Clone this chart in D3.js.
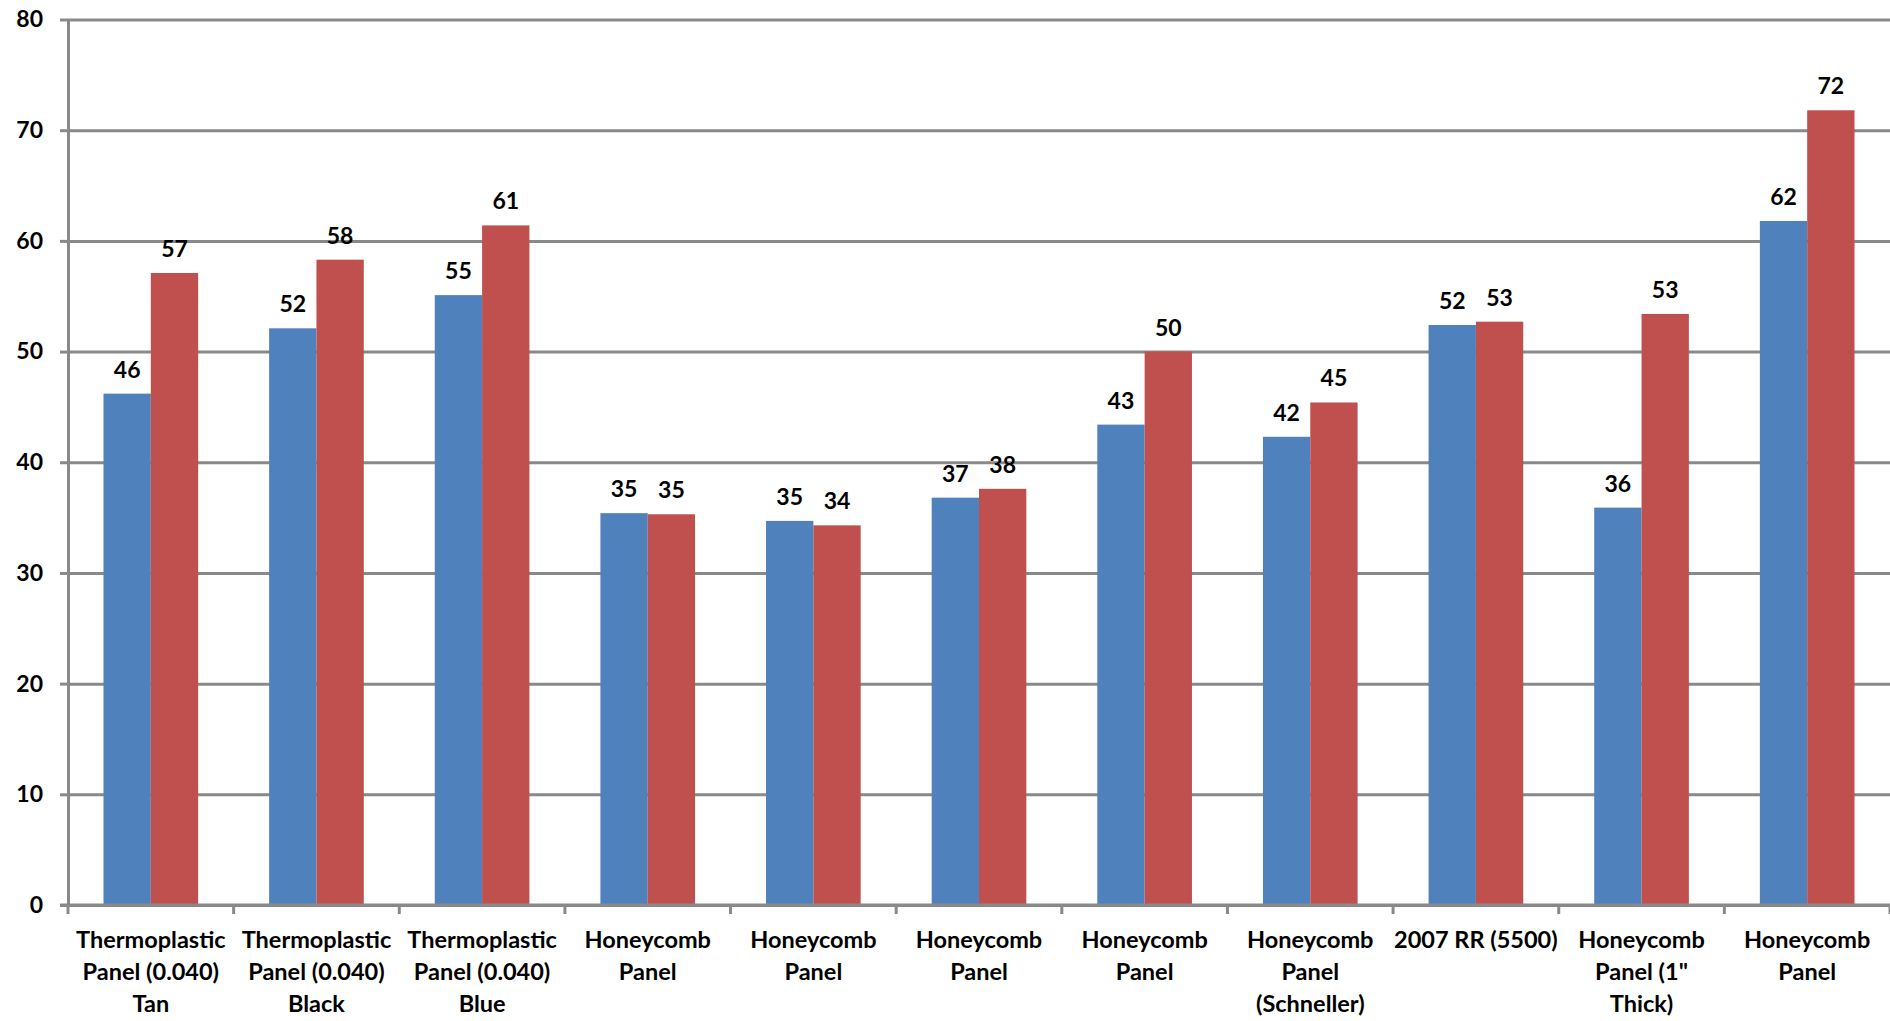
<!DOCTYPE html>
<html>
<head>
<meta charset="utf-8">
<script src="https://cdn.jsdelivr.net/npm/d3@7/dist/d3.min.js"></script>
<style>
  html, body { margin: 0; padding: 0; background: #ffffff; }
  svg { display: block; }
  text { font-family: Lato, "Open Sans", sans-serif; font-weight: 700; fill: #000; }
</style>
</head>
<body>
<svg id="chart" width="1890" height="1021"></svg>
<script>
// Category names, one string per group; line breaks mark the label wrapping
const categories = [
  "Thermoplastic\nPanel (0.040)\nTan",
  "Thermoplastic\nPanel (0.040)\nBlack",
  "Thermoplastic\nPanel (0.040)\nBlue",
  "Honeycomb\nPanel",
  "Honeycomb\nPanel",
  "Honeycomb\nPanel",
  "Honeycomb\nPanel",
  "Honeycomb\nPanel\n(Schneller)",
  "2007 RR (5500)",
  "Honeycomb\nPanel (1\"\nThick)",
  "Honeycomb\nPanel"
];

// First series (blue) and second series (red)
const seriesA = [46.2, 52.1, 55.1, 35.4, 34.7, 36.8, 43.4, 42.3, 52.4, 35.9, 61.8];
const seriesB = [57.1, 58.3, 61.4, 35.3, 34.3, 37.6, 50.0, 45.4, 52.7, 53.4, 71.8];

const yTicks = [0, 10, 20, 30, 40, 50, 60, 70, 80];

const seriesColors = ["#4F81BD", "#C0504D"];

const W = 1890, H = 1021;
const margin = { top: 19.5, right: 0, bottom: 116, left: 68 };
const plotW = W - margin.left - margin.right;
const plotH = H - margin.top - margin.bottom;

const svg = d3.select("#chart");
const g = svg.append("g").attr("transform", `translate(${margin.left},${margin.top})`);

const idx = d3.range(categories.length);
const gapRatio = 1.5 / 3.5;

const x0 = d3.scaleBand()
  .domain(idx)
  .range([0, plotW])
  .paddingInner(gapRatio)
  .paddingOuter(gapRatio / 2);

const x1 = d3.scaleBand()
  .domain([0, 1])
  .range([0, x0.bandwidth()]);

const y = d3.scaleLinear().domain([0, 80]).range([plotH, 0]);

const axisColor = "#898989";

// Horizontal gridlines
const grid = g.append("g")
  .call(d3.axisLeft(y).tickValues(yTicks).tickSize(-plotW).tickFormat(""));
grid.select(".domain").remove();
grid.selectAll("line").attr("stroke", axisColor).attr("stroke-width", 3);

// Bars
const rows = idx.map(i => ({ i, vals: [seriesA[i], seriesB[i]] }));
const groups = g.append("g").selectAll("g")
  .data(rows)
  .join("g")
  .attr("transform", d => `translate(${x0(d.i)},0)`);

groups.selectAll("rect")
  .data(d => d.vals.map((v, s) => ({ v, s })))
  .join("rect")
  .attr("x", d => x1(d.s))
  .attr("width", x1.bandwidth())
  .attr("y", d => y(d.v))
  .attr("height", d => y(0) - y(d.v))
  .attr("fill", d => seriesColors[d.s]);

// Value labels above bars
groups.selectAll("text")
  .data(d => d.vals.map((v, s) => ({ v, s })))
  .join("text")
  .attr("x", d => x1(d.s) + x1.bandwidth() / 2)
  .attr("y", d => y(d.v) - 16)
  .attr("text-anchor", "middle")
  .style("font-size", "23px")
  .text(d => d3.format(".0f")(d.v));

// Y axis
const yAxis = g.append("g")
  .call(d3.axisLeft(y).tickValues(yTicks).tickSize(8).tickPadding(17).tickSizeOuter(0));
yAxis.select(".domain").attr("stroke", axisColor).attr("stroke-width", 3);
yAxis.selectAll("line").attr("stroke", axisColor).attr("stroke-width", 3);
yAxis.selectAll("text").style("font-size", "23px").style("font-family", "Lato, sans-serif").style("font-weight", 700);

// X axis baseline with ticks on category boundaries
const xAxis = g.append("g").attr("transform", `translate(0,${plotH})`);
xAxis.append("line")
  .attr("x1", -8).attr("x2", plotW)
  .attr("stroke", axisColor).attr("stroke-width", 3);
xAxis.selectAll("line.tick")
  .data(d3.range(categories.length + 1))
  .join("line")
  .attr("class", "tick")
  .attr("x1", i => x0.range()[0] + i * x0.step())
  .attr("x2", i => x0.range()[0] + i * x0.step())
  .attr("y1", 0).attr("y2", 9)
  .attr("stroke", axisColor).attr("stroke-width", 3);

// Category labels, wrapped onto lines
const catLabels = xAxis.selectAll("text.cat")
  .data(idx)
  .join("text")
  .attr("class", "cat")
  .attr("text-anchor", "middle")
  .attr("transform", i => `translate(${x0(i) + x0.bandwidth() / 2},0)`)
  .style("font-size", "23.5px");

catLabels.selectAll("tspan")
  .data(i => categories[i].split("\n"))
  .join("tspan")
  .attr("x", 0)
  .attr("y", (d, k) => 43 + k * 32)
  .text(d => d);
</script>
</body>
</html>
